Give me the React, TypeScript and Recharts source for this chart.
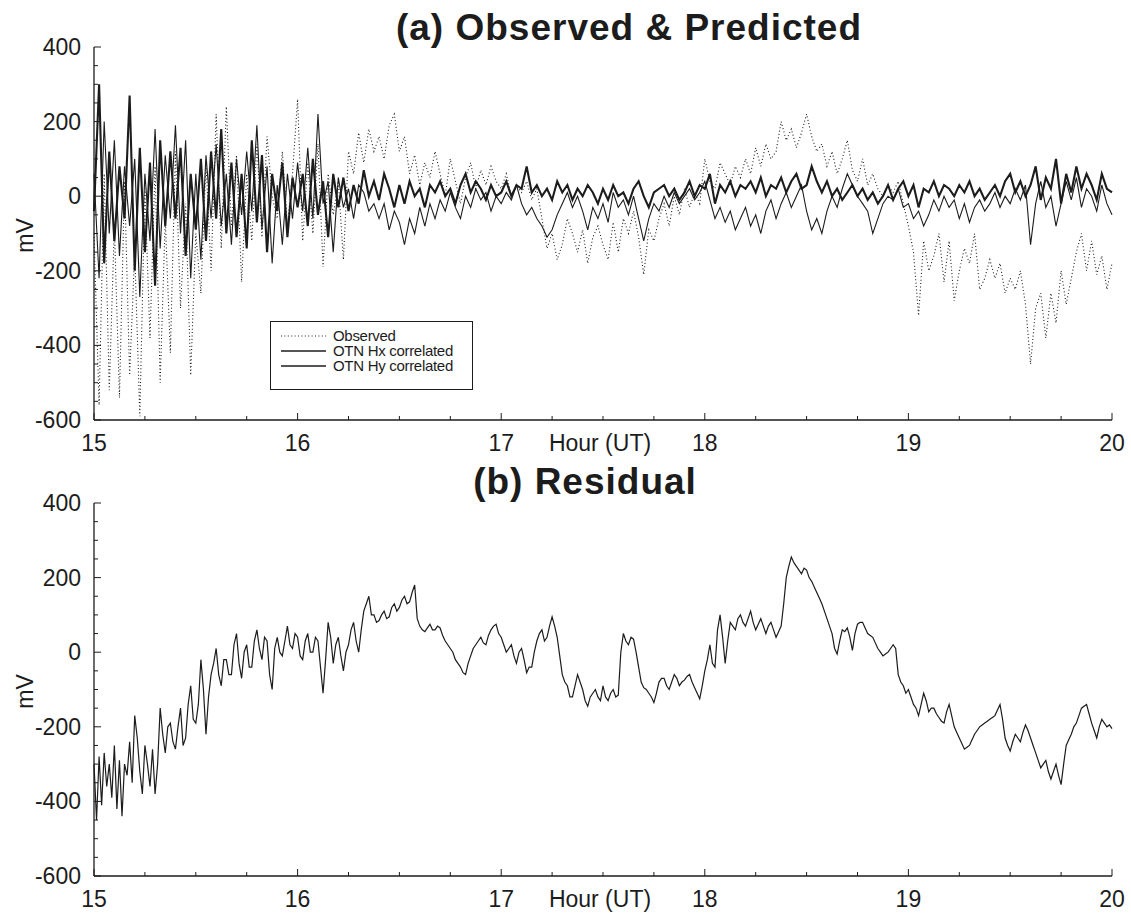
import React from "react";
import { Legend, Line, LineChart, XAxis, YAxis } from "recharts";

// Panel (a) samples every 1.5 minutes, panel (b) every 45 s, from 15:00 to 20:00 UT
const SAMPLE_START = 15;
const SAMPLE_STEP = 0.025;
const RESIDUAL_STEP = 0.0125;

// mV, panel (a)
const observed = [
  -100, -560, 60, -520, -80, -540, 40, -480, -150, -590, 20, -380, 80, -500, -60, -420,
  120, -300, -20, -480, -100, -260, 90, -200, 220, -140, 240, -80, 110, -230, 60, -120,
  140, -110, 160, 0, -60, 120, -80, 60, 260, -120, 90, -100, 140, -190, 60, -50,
  40, -170, 120, 60, 170, 90, 180, 120, 160, 100, 190, 220, 120, 160, 60, 110,
  30, 90, 50, 120, 60, 0, 100, 40, -20, 50, 90, 20, 70, 30, 80, 40,
  20, 60, 0, 30, 10, 40, -10, 20, -60, -140, -100, -170, -130, -60, -100, -150,
  -90, -180, -110, -80, -130, -170, -70, -150, -60, -100, -40, -110, -210, -90, -120, -60,
  -20, -80, 0, -50, 20, -30, 10, -20, 100, 40, 20, 90, 60, 30, 80, 50,
  100, 60, 130, 80, 140, 100, 120, 200, 150, 180, 130, 170, 220, 160, 120, 140,
  80, 120, 60, 100, 150, 70, 40, 100, 30, 60, 20, 0, 30, 10, 40, -20,
  -80, -150, -320, -120, -200, -160, -100, -230, -120, -280, -200, -140, -180, -100, -250, -220,
  -170, -220, -180, -260, -220, -250, -200, -290, -450, -300, -260, -380, -260, -340, -200, -290,
  -220, -150, -100, -200, -120, -210, -160, -250, -180,
];

const hxCorrelated = [
  -40, 300, -180, 120, -120, 80, -60, 270, -200, 130, -150, 90, -240, 150, -80, 120,
  -60, 130, -160, 60, -90, 100, -120, 120, -60, 180, -100, 90, -110, 60, -140, 150,
  -70, 110, -150, 60, -40, 90, -110, 50, -30, 60, -80, 100, -50, 40, -110, 60,
  -30, 50, -40, 30, -20, 70, 0, 40, -10, 60, 20, -30, 30, -20, 40, 0,
  20, -30, 30, 10, 40, 0, 20, -20, 30, 60, 10, 40, 20, -10, 30, 0,
  10, 40, 0, 30, 20, 80, 10, 30, 0, 20, -10, 40, 10, 30, -10, 20,
  0, 30, 10, -20, 20, -10, 30, 0, 10, -20, 20, 40, 0, -30, 10, 20,
  30, 0, 20, -10, 10, 40, 0, 30, 20, 60, -20, 30, 10, 40, 0, 30,
  20, 40, 10, 50, 0, 30, 20, 50, 10, 40, 60, 20, 30, 80, 40, 10,
  40, 0, 20, -10, 10, 30, 0, 20, -10, 10, -20, 0, 30, -10, 20, 40,
  0, 30, -30, 20, 10, 40, 0, 30, 20, 0, 30, 10, 40, 0, 20, -10,
  10, 30, 0, 40, 60, 10, 40, 0, 30, 80, -10, 50, 20, 100, -20, 60,
  10, 80, 20, 60, 30, -10, 60, 20, 10,
];

const hyCorrelated = [
  60, -220, 200, -100, 150, -160, 80, -80, 100, -270, 60, -120, 180, -140, 110, -60,
  190, -100, 150, -220, 60, -170, 110, -60, 140, -80, 60, -130, 100, -50, 120, -40,
  190, -90, 80, -180, 30, -130, 60, -60, 90, -40, 130, -60, 220, -20, 40, -150,
  50, -30, 20, -60, 30, 10, -40, -20, -60, -20, -90, -40, -70, -130, -60, -100,
  -30, -80, -20, -60, -10, -40, 10, -30, -60, 0, -30, 20, -10, 10, -40, 0,
  -20, 10, -10, 30, -20, -50, -30, -60, -80, -110, -90, -50, -20, 10, -30, 0,
  -40, -90, -30, -60, -20, -70, 10, -30, -10, -50, 0, -60, -120, -60, -20, -40,
  0, -30, 10, -20, 0, 20, -10, 10, 40, -10, -60, -30, -70, -40, -90, -60,
  -30, -80, -50, -100, -40, -10, -60, -20, 10, -30, 0, 30, -40, -90, -60, -100,
  -40, 0, -30, 20, 60, 30, 0, -20, -40, -100, -60, -20, 0, -10, 20, -30,
  -20, -60, -40, -80, -50, -10, -40, 0, -30, -10, -60, -20, -70, -30, -10, -40,
  -20, 10, -30, 0, -20, 20, -10, 30, -130, -20, 40, -30, 0, -80, -20, 40,
  -10, 50, -30, 20, 0, -40, 30, -20, -50,
];

// mV, panel (b)
const residual = [
  -300, -450, -280, -410, -270, -360, -300, -390, -250, -420, -290, -440, -300, -330, -240, -350,
  -170, -230, -320, -380, -250, -300, -360, -260, -380, -300, -150, -220, -270, -200, -190, -240,
  -260, -200, -150, -250, -230, -140, -90, -180, -190, -140, -20, -100, -220, -120, -60, -30,
  10, -60, -90, -20, -20, -60, -60, 20, 50, -30, -70, 0, 20, -40, -40, 30,
  60, 10, -20, 40, 30, -60, -100, 10, 40, 0, -10, 30, 70, 20, 10, 50,
  40, -10, -20, 30, 50, 0, 0, 40, 30, -40, -110, -20, 80, 40, -30, 20,
  40, -10, -50, 0, 20, 60, 80, 30, 0, 60, 110, 130, 150, 100, 100, 80,
  85, 100, 110, 90, 95, 120, 130, 110, 120, 140, 150, 130, 135, 160, 180, 90,
  70, 60, 55, 65, 75, 60, 60, 70, 65, 45, 30, 20, 10, 0, -20, -30,
  -40, -55, -60, -30, -10, 10, 20, 30, 40, 25, 20, 45, 60, 70, 75, 50,
  40, 20, 0, 10, 20, -10, -30, 0, 10, -20, -55, -40, -40, 0, 30, 50,
  60, 30, 40, 70, 95, 70, 40, -10, -60, -80, -90, -120, -120, -90, -60, -80,
  -100, -130, -145, -120, -110, -100, -120, -130, -90, -120, -130, -110, -100, -120, -115, 0,
  50, 30, 20, 40, 35, 0, -40, -80, -95, -100, -110, -120, -135, -110, -80, -70,
  -70, -90, -100, -80, -60, -70, -90, -80, -75, -65, -60, -80, -95, -110, -125, -90,
  -50, -20, 20, -30, -40, 60, 100, 40, -30, 30, 80, 70, 60, 90, 100, 80,
  70, 90, 110, 80, 60, 75, 90, 70, 50, 70, 80, 60, 40, 55, 70, 130,
  200, 230, 255, 240, 230, 220, 210, 225, 220, 200, 190, 175, 160, 145, 130, 110,
  90, 70, 50, 10, -5, 30, 60, 55, 65, 40, 5, 50, 75, 80, 80, 65,
  50, 45, 40, 25, 10, 0, -10, -5, 0, 10, 20, 10, -60, -80, -90, -110,
  -100, -120, -140, -150, -170, -140, -110, -130, -160, -150, -150, -165, -175, -185, -190, -160,
  -140, -170, -200, -215, -230, -245, -260, -255, -250, -235, -220, -210, -200, -195, -190, -185,
  -180, -175, -170, -155, -140, -180, -230, -250, -265, -240, -220, -230, -240, -215, -195, -210,
  -230, -250, -270, -290, -310, -300, -290, -320, -340, -320, -300, -330, -355, -300, -250, -235,
  -220, -200, -190, -170, -150, -145, -140, -165, -190, -210, -230, -200, -180, -190, -200, -195,
  -205,
];

const hourTicks = [15, 16, 17, 18, 19, 20];
const mvTicks = [-600, -400, -200, 0, 200, 400];

const FONT = '"Liberation Sans", Arial, Helvetica, sans-serif';
const INK = "#1c1c1c";
const CHART_W = 1131;
const CHART_H = 460;

// minor ticks: quarter hours and every 50 mV
const hourAxisTicks = hourTicks.flatMap((h, i) =>
  i === hourTicks.length - 1 ? [h] : [h, h + 0.25, h + 0.5, h + 0.75]
);
const mvAxisTicks = mvTicks.flatMap((v, i) =>
  i === mvTicks.length - 1 ? [v] : [v, v + 50, v + 100, v + 150]
);

const panelA = observed.map((v, i) => ({
  hour: SAMPLE_START + i * SAMPLE_STEP,
  observed: v,
  hx: hxCorrelated[i],
  hy: hyCorrelated[i],
}));
const panelB = residual.map((v, i) => ({
  hour: SAMPLE_START + i * RESIDUAL_STEP,
  residual: v,
}));

const seriesA = [
  { key: "observed", name: "Observed", width: 1.1, dash: "1 2.4" },
  { key: "hx", name: "OTN Hx correlated", width: 2.1, dash: undefined },
  { key: "hy", name: "OTN Hy correlated", width: 1.1, dash: undefined },
];

const isMajorHour = (v: number) => Number.isInteger(v);
const isMajorMv = (v: number) => v % 200 === 0;

const labelStyle = { fontFamily: FONT, fontSize: 23, fill: INK };

function BottomTick({ x, y, payload }: any) {
  const major = isMajorHour(payload.value);
  return (
    <g>
      <line x1={x} x2={x} y1={y} y2={y - (major ? 7 : 4)} stroke={INK} strokeWidth={1} />
      {major && (
        <text x={x} y={y + 31} textAnchor="middle" {...labelStyle}>
          {payload.value}
        </text>
      )}
    </g>
  );
}

function TopTick({ x, y, payload }: any) {
  const major = isMajorHour(payload.value);
  return <line x1={x} x2={x} y1={y} y2={y + (major ? 7 : 4)} stroke={INK} strokeWidth={1} />;
}

function LeftTick({ x, y, payload }: any) {
  const major = isMajorMv(payload.value);
  return (
    <g>
      <line x1={x} x2={x + (major ? 7 : 4)} y1={y} y2={y} stroke={INK} strokeWidth={1} />
      {major && (
        <text x={x - 13} y={y + 8} textAnchor="end" {...labelStyle}>
          {payload.value}
        </text>
      )}
    </g>
  );
}

function RightTick({ x, y, payload }: any) {
  const major = isMajorMv(payload.value);
  return <line x1={x} x2={x - (major ? 7 : 4)} y1={y} y2={y} stroke={INK} strokeWidth={1} />;
}

function MvLabel({ viewBox }: any) {
  const cy = viewBox.y + viewBox.height / 2 + 2;
  return (
    <text x={33} y={cy} transform={`rotate(-90, 33, ${cy})`} textAnchor="middle" {...labelStyle}>
      mV
    </text>
  );
}

function HourLabel({ viewBox }: any) {
  return (
    <text x={viewBox.x + 506} y={viewBox.y + 31} textAnchor="middle" {...labelStyle}>
      Hour (UT)
    </text>
  );
}

function LegendBox() {
  return (
    <div
      style={{
        border: `1px solid ${INK}`,
        background: "#fff",
        width: 201,
        height: 61,
        boxSizing: "content-box",
        padding: "6px 0 0 0",
        fontFamily: FONT,
        fontSize: 15,
        color: INK,
        lineHeight: "15px",
      }}
    >
      {seriesA.map((s) => (
        <div key={s.key} style={{ display: "flex", alignItems: "center", height: 15 }}>
          <svg width={62} height={15}>
            <line
              x1={10}
              x2={55}
              y1={8}
              y2={8}
              stroke={INK}
              strokeWidth={s.dash ? 1.2 : 1.6}
              strokeDasharray={s.dash}
            />
          </svg>
          <span style={{ letterSpacing: -0.3 }}>{s.name}</span>
        </div>
      ))}
    </div>
  );
}

// bottom/left axes carry the labels, top/right only close the frame with inward ticks
function axes() {
  return [
    <XAxis
      key="xb"
      dataKey="hour"
      type="number"
      domain={[15, 20]}
      ticks={hourAxisTicks}
      interval={0}
      height={40}
      tickSize={0}
      tickMargin={0}
      tickLine={false}
      axisLine={{ stroke: INK, strokeWidth: 1.3 }}
      tick={BottomTick}
      label={<HourLabel />}
    />,
    <XAxis
      key="xt"
      xAxisId="top"
      orientation="top"
      dataKey="hour"
      type="number"
      domain={[15, 20]}
      ticks={hourAxisTicks}
      interval={0}
      height={0}
      tickSize={0}
      tickMargin={0}
      tickLine={false}
      axisLine={{ stroke: INK, strokeWidth: 1.3 }}
      tick={TopTick}
    />,
    <YAxis
      key="yl"
      type="number"
      domain={[-600, 400]}
      ticks={mvAxisTicks}
      interval={0}
      width={94}
      tickSize={0}
      tickMargin={0}
      tickLine={false}
      axisLine={{ stroke: INK, strokeWidth: 1.3 }}
      tick={LeftTick}
      label={<MvLabel />}
    />,
    <YAxis
      key="yr"
      yAxisId="right"
      orientation="right"
      type="number"
      domain={[-600, 400]}
      ticks={mvAxisTicks}
      interval={0}
      width={0}
      tickSize={0}
      tickMargin={0}
      tickLine={false}
      axisLine={{ stroke: INK, strokeWidth: 1.3 }}
      tick={RightTick}
    />,
  ];
}

const titleStyle: React.CSSProperties = {
  position: "absolute",
  transform: "translateX(-50%)",
  whiteSpace: "nowrap",
  fontFamily: FONT,
  fontWeight: 700,
  fontSize: 37,
  lineHeight: "37px",
  letterSpacing: 1,
  color: INK,
};

export default function App() {
  return (
    <div
      style={{
        position: "absolute",
        left: 0,
        top: 0,
        width: CHART_W,
        height: 914,
        background: "#fff",
        overflow: "hidden",
      }}
    >
      <div style={{ position: "absolute", left: 0, top: 0 }}>
        <LineChart
          width={CHART_W}
          height={CHART_H}
          data={panelA}
          margin={{ top: 47, right: 19, bottom: 0, left: 0 }}
        >
          {axes()}
          {seriesA.map((s) => (
            <Line
              key={s.key}
              dataKey={s.key}
              name={s.name}
              type="linear"
              stroke={INK}
              strokeWidth={s.width}
              strokeDasharray={s.dash}
              dot={false}
              activeDot={false}
              isAnimationActive={false}
            />
          ))}
          <Legend
            layout="vertical"
            align="center"
            verticalAlign="middle"
            content={() => <LegendBox />}
            wrapperStyle={{ left: 270, top: 321, width: 203, height: 63 }}
          />
        </LineChart>
      </div>
      <div style={{ ...titleStyle, left: 629, top: 9 }}>(a) Observed &amp; Predicted</div>

      <div style={{ position: "absolute", left: 0, top: 456 }}>
        <LineChart
          width={CHART_W}
          height={CHART_H}
          data={panelB}
          margin={{ top: 47, right: 19, bottom: 0, left: 0 }}
        >
          {axes()}
          <Line
            dataKey="residual"
            name="Residual"
            type="linear"
            stroke={INK}
            strokeWidth={1.2}
            dot={false}
            activeDot={false}
            isAnimationActive={false}
          />
        </LineChart>
      </div>
      <div style={{ ...titleStyle, left: 585, top: 463 }}>(b) Residual</div>
    </div>
  );
}
